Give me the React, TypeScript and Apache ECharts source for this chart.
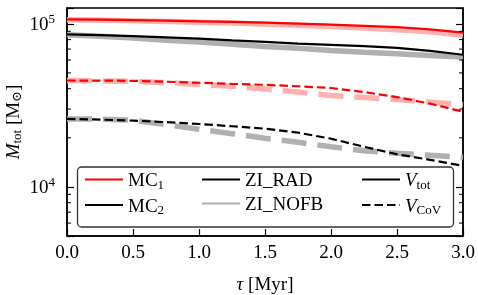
import React, { useEffect, useRef } from "react";
import * as echarts from "echarts";

const tau = [0, 0.25, 0.5, 0.75, 1.0, 1.25, 1.5, 1.75, 2.0, 2.25, 2.5, 2.75, 3.0];
const mc1RadTot = [106600, 106100, 105400, 104600, 103600, 102700, 101600, 100300, 98900, 97200, 95300, 92500, 88300];
const mc1NofbTot = [105800, 105400, 104300, 103300, 102100, 101000, 99300, 97900, 96100, 94100, 92100, 89300, 85000];
const mc2RadTot = [86200, 85200, 84100, 82600, 81100, 79100, 77400, 75600, 74300, 72900, 71200, 68200, 64600];
const mc2NofbTot = [85600, 83800, 81700, 79400, 77300, 75000, 72700, 70700, 68700, 66900, 65500, 64000, 62500];
const mc1RadCov = [44900, 44850, 44700, 44150, 43500, 42850, 42250, 41400, 40400, 38150, 35550, 32400, 28900];
const mc1NofbCov = [44900, 44700, 44450, 43650, 42400, 41400, 39800, 38150, 36300, 35300, 34300, 33100, 31950];
const mc2RadCov = [26100, 25850, 25500, 24950, 24300, 23550, 22750, 21500, 19750, 17630, 15850, 14660, 13460];
const mc2NofbCov = [26100, 26030, 25660, 24070, 22580, 21200, 19890, 18780, 17630, 16650, 16080, 15630, 15180];
const minorTicks = [6000, 7000, 8000, 9000, 20000, 30000, 40000, 50000, 60000, 70000, 80000, 90000];
const xTicks = ["0.0", "0.5", "1.0", "1.5", "2.0", "2.5", "3.0"];

const FONT = "Liberation Serif, DejaVu Serif, serif";
const FS = 19;
const SFS = 13;
const RED = "#ff0000";
const PINK = "#ffb0b0";
const BLACK = "#000000";
const GRAY = "#b0b0b0";
const THIN = 2.2;
const THICK = 5.5;
const THIN_DASH = [8.5, 4];
const THICK_DASH = [25, 11];

const pairs = (ys: number[]) => tau.map((t, i) => [t, ys[i]]);

const legendNames: Record<string, string> = {
  MC1: "{n|MC}{s|1}",
  MC2: "{n|MC}{s|2}",
  ZI_RAD: "{n|ZI_RAD}",
  ZI_NOFB: "{n|ZI_NOFB}",
  Vtot: "{i|V}{s|tot}",
  VCoV: "{i|V}{s|CoV}",
};

const rich = {
  n: { fontFamily: FONT, fontSize: FS, lineHeight: 22, color: "#000" },
  i: { fontFamily: FONT, fontSize: FS, lineHeight: 22, fontStyle: "italic", color: "#000" },
  s: { fontFamily: FONT, fontSize: SFS, lineHeight: 13, verticalAlign: "bottom", color: "#000" },
};

export default function App() {
  const ref = useRef<HTMLDivElement>(null);
  useEffect(() => {
    if (!ref.current) return;
    const chart = echarts.init(ref.current, undefined, { renderer: "svg" });

    const line = (name: string, ys: number[], color: string, width: number, dash: any, z: number) => ({
      type: "line",
      name,
      data: pairs(ys),
      showSymbol: false,
      symbol: "none",
      z,
      lineStyle: { color, width, type: dash ? dash : "solid", cap: "butt" },
      itemStyle: { color },
      silent: true,
    });
    const dummy = (name: string, color: string, width: number, dash: any) => ({
      type: "line",
      name,
      data: [],
      symbol: "none",
      lineStyle: { color, width, type: dash ? dash : "solid", cap: "butt" },
      itemStyle: { color, opacity: 0 },
    });

    const legendBase = {
      orient: "vertical",
      itemWidth: 38,
      itemHeight: 14,
      itemGap: 5,
      padding: 0,
      selectedMode: false,
      z: 6,
      itemStyle: { opacity: 0 },
      textStyle: { fontFamily: FONT, fontSize: FS, rich },
      formatter: (name: string) => legendNames[name],
    };

    chart.setOption({
      animation: false,
      grid: {
        left: 67, right: 15, top: 8, bottom: 59,
        outerBoundsMode: "none",
        containLabel: false,
        show: true, borderColor: "#000", borderWidth: 1.5, backgroundColor: "transparent",
      },
      xAxis: {
        type: "value",
        min: 0,
        max: 3,
        interval: 0.5,
        name: "{i|τ} {n|[Myr]}",
        nameLocation: "middle",
        nameGap: 36,
        nameTextStyle: { fontFamily: FONT, fontSize: FS, rich },
        axisLine: { lineStyle: { color: "#000", width: 1.5 } },
        axisTick: { inside: true, length: 7, lineStyle: { color: "#000", width: 1.2 } },
        axisLabel: {
          margin: 6,
          fontFamily: FONT,
          fontSize: FS,
          color: "#000",
          formatter: (v: number) => xTicks[Math.round(v * 2)] ?? "",
        },
        splitLine: { show: false },
      },
      yAxis: [
        {
          type: "log",
          logBase: 10,
          min: 5000,
          max: 125000,
          name: "{i|M}{s|tot}{n| [M}{s|⊙}{n|]}",
          nameLocation: "middle",
          nameRotate: 90,
          nameGap: 44,
          nameMoveOverlap: false,
          nameTextStyle: { fontFamily: FONT, fontSize: FS, rich },
          axisLine: { show: true, lineStyle: { color: "#000", width: 1.5 } },
          axisTick: { inside: true, length: 7, lineStyle: { color: "#000", width: 1.2 } },
          axisLabel: {
            margin: 12,
            fontFamily: FONT,
            fontSize: FS,
            color: "#000",
            formatter: (v: number) => {
              const e = Math.log10(v);
              if (Math.abs(e - Math.round(e)) > 1e-6) return "";
              return `{b|10}{p|${Math.round(e)}}`;
            },
            rich: {
              b: { fontFamily: FONT, fontSize: FS, lineHeight: 24, color: "#000" },
              p: { fontFamily: FONT, fontSize: SFS, lineHeight: 14, verticalAlign: "top", color: "#000" },
            },
          },
          splitLine: { show: false },
        },
        {
          type: "log",
          logBase: 10,
          min: 5000,
          max: 125000,
          position: "right",
          axisLine: { show: true, lineStyle: { color: "#000", width: 1.5 } },
          axisTick: { inside: true, length: 7, lineStyle: { color: "#000", width: 1.2 } },
          axisLabel: { show: false },
          splitLine: { show: false },
        },
      ],
      legend: [
        { ...legendBase, data: ["MC1", "MC2"], left: 84, top: 170 },
        { ...legendBase, data: ["ZI_RAD", "ZI_NOFB"], left: 201, top: 170 },
        { ...legendBase, data: ["Vtot", "VCoV"], left: 361, top: 170 },
      ],
      graphic: [
        {
          type: "rect",
          z: 5,
          shape: { x: 77.5, y: 167, width: 376, height: 60, r: 4 },
          style: { fill: "rgba(255,255,255,0.85)", stroke: "#333", lineWidth: 1.3 },
        },
      ],
      series: [
        line("mc1NofbTot", mc1NofbTot, PINK, THICK, null, 2),
        line("mc2NofbTot", mc2NofbTot, GRAY, THICK, null, 2),
        line("mc1NofbCov", mc1NofbCov, PINK, THICK, THICK_DASH, 2),
        line("mc2NofbCov", mc2NofbCov, GRAY, THICK, THICK_DASH, 2),
        line("mc1RadTot", mc1RadTot, RED, THIN, null, 3),
        line("mc2RadTot", mc2RadTot, BLACK, THIN, null, 3),
        line("mc1RadCov", mc1RadCov, RED, THIN, THIN_DASH, 3),
        line("mc2RadCov", mc2RadCov, BLACK, THIN, THIN_DASH, 3),
        dummy("MC1", RED, THIN, null),
        dummy("MC2", BLACK, THIN, null),
        dummy("ZI_RAD", BLACK, THIN, null),
        dummy("ZI_NOFB", GRAY, THICK, null),
        dummy("Vtot", BLACK, THIN, null),
        dummy("VCoV", BLACK, THIN, THIN_DASH),
        {
          type: "custom",
          name: "minorTicks",
          silent: true,
          z: 4,
          data: minorTicks.map((v) => [0, v]),
          encode: { x: 0, y: 1 },
          renderItem: (params: any, api: any) => {
            const p = api.coord([0, api.value(1)]);
            const cs = params.coordSys;
            const y = p[1];
            const st = { stroke: "#000", lineWidth: 1.0 };
            return {
              type: "group",
              children: [
                { type: "line", shape: { x1: cs.x, y1: y, x2: cs.x + 4, y2: y }, style: st },
                { type: "line", shape: { x1: cs.x + cs.width - 4, y1: y, x2: cs.x + cs.width, y2: y }, style: st },
              ],
            };
          },
        },
      ],
    });
    return () => chart.dispose();
  }, []);
  return <div ref={ref} style={{ position: "fixed", left: 0, top: 0, width: 478, height: 295 }} />;
}
